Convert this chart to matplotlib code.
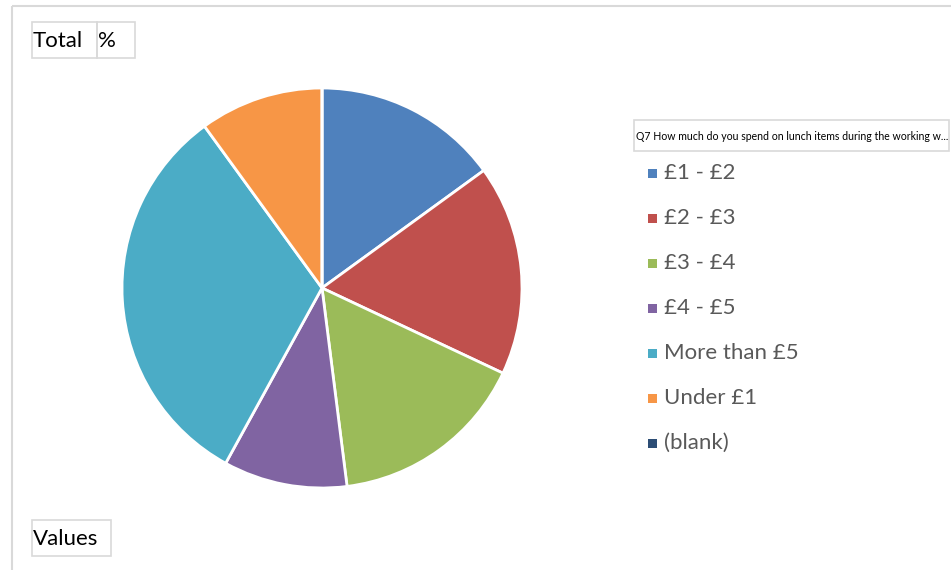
import matplotlib
matplotlib.use("Agg")
import matplotlib.pyplot as plt
from matplotlib.patches import Rectangle

plt.rcParams['font.family'] = ['Lato', 'DejaVu Sans']

categories = ["£1 - £2", "£2 - £3", "£3 - £4", "£4 - £5", "More than £5", "Under £1", "(blank)"]
values = [15, 17, 16, 10, 32, 10, 0]
colors = ["#4F81BD", "#C0504D", "#9BBB59", "#8064A2", "#4BACC6", "#F79646", "#2C4D75"]
legend_title = "Q7 How much do you spend on lunch items during the working w..."

W, H = 951, 570
fig = plt.figure(figsize=(W / 100, H / 100), dpi=100)
fig.patch.set_facecolor("white")

# overlay axes in pixel coordinates (y down)
ov = fig.add_axes([0, 0, 1, 1])
ov.set_xlim(0, W)
ov.set_ylim(H, 0)
ov.axis("off")

grey = "#d9d9d9"
# chart area border
ov.add_patch(Rectangle((11.5, 6), W + 20, H + 20, fill=False, edgecolor=grey, lw=1.5))

# field buttons
ov.add_patch(Rectangle((32, 22), 65, 36, fill=False, edgecolor=grey, lw=1.2))
ov.add_patch(Rectangle((97, 22), 38, 36, fill=False, edgecolor=grey, lw=1.2))
ov.text(33, 41, "Total", fontsize=16, color="black", va="center", ha="left")
ov.text(98, 41, "%", fontsize=16, color="black", va="center", ha="left")
ov.add_patch(Rectangle((32, 520), 79, 36, fill=False, edgecolor=grey, lw=1.2))
ov.text(33, 539, "Values", fontsize=16, color="black", va="center", ha="left")

# legend title button
ov.add_patch(Rectangle((634, 120), 315, 31, fill=False, edgecolor=grey, lw=1.2))
ov.text(636, 136, legend_title, fontsize=7.6, color="black", va="center", ha="left")

# legend entries
y0, dy = 173, 45
for i, (lab, col) in enumerate(zip(categories, colors)):
    y = y0 + i * dy
    ov.add_patch(Rectangle((648, y - 4.5), 9, 9, facecolor=col, edgecolor="none"))
    ov.text(664, y, lab, fontsize=16, color="#595959", va="center", ha="left")

# pie
cx, cy, r = 322, 288, 200
pax = fig.add_axes([(cx - r) / W, (H - cy - r) / H, 2 * r / W, 2 * r / H])
pax.pie(values, colors=colors, startangle=90, counterclock=False,
        wedgeprops=dict(edgecolor="white", linewidth=2))
pax.set_xlim(-1, 1)
pax.set_ylim(-1, 1)
pax.axis("off")

fig.savefig("out.png", dpi=100, facecolor="white")
